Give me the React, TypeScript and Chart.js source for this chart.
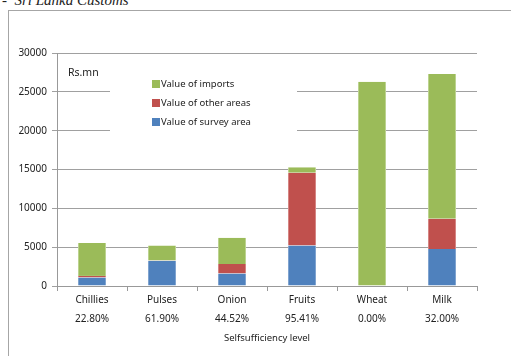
import React, { useEffect, useRef } from "react";
import { Chart, registerables } from "chart.js";

Chart.register(...registerables);

const categories = ["Chillies", "Pulses", "Onion", "Fruits", "Wheat", "Milk"];
const selfSufficiency = ["22.80%", "61.90%", "44.52%", "95.41%", "0.00%", "32.00%"];
const surveyArea = [1100, 3250, 1600, 5200, 0, 4750];
const otherAreas = [200, 30, 1230, 9390, 0, 3920];
const imports = [4250, 1950, 3390, 690, 26300, 18630];
const yTicks = [0, 5000, 10000, 15000, 20000, 25000, 30000];
const unitLabel = "Rs.mn";
const xTitle = "Selfsufficiency level";
const headerText = "Sri Lanka Customs";

const FONT = "'Noto Sans', 'Open Sans', sans-serif";

const legendPlugin = {
  id: "insideLegend",
  beforeDatasetsDraw(chart: any) {
    const ctx = chart.ctx;
    const area = chart.chartArea;
    ctx.save();
    ctx.fillStyle = "#ffffff";
    ctx.fillRect(area.left + 53, area.top + 14, 187, 72);
    const ds = chart.data.datasets.slice().reverse();
    ctx.font = `9.5px ${FONT}`;
    ctx.textBaseline = "middle";
    ctx.textAlign = "left";
    ds.forEach((d: any, i: number) => {
      const y = area.top + 31 + i * 19;
      ctx.fillStyle = d.backgroundColor;
      ctx.fillRect(area.left + 95, y - 4, 8, 8);
      ctx.fillStyle = "#222";
      ctx.fillText(d.label, area.left + 104, y + 0.5);
    });
    ctx.font = `10.5px ${FONT}`;
    ctx.fillStyle = "#222";
    ctx.fillText(unitLabel, area.left + 11, area.top + 20);
    ctx.restore();
  },
};

const sideBorder = { top: 0, bottom: 0, left: 1, right: 1 };

export default function App() {
  const ref = useRef<HTMLCanvasElement>(null);
  useEffect(() => {
    if (!ref.current) return;
    const chart = new Chart(ref.current, {
      type: "bar",
      data: {
        labels: categories.map((c, i) => [c, selfSufficiency[i]]),
        datasets: [
          { label: "Value of survey area", data: surveyArea, backgroundColor: "#4F81BD", borderColor: "#7fa3cf", borderWidth: sideBorder, borderSkipped: false },
          { label: "Value of other areas", data: otherAreas, backgroundColor: "#C0504D", borderColor: "#d58583", borderWidth: sideBorder, borderSkipped: false },
          { label: "Value of imports", data: imports, backgroundColor: "#9BBB59", borderColor: "#bcd38f", borderWidth: sideBorder, borderSkipped: false },
        ],
      },
      options: {
        responsive: false,
        animation: false,
        devicePixelRatio: 1,
        layout: { padding: { top: 53, right: 34, bottom: 0, left: 0 } },
        plugins: { legend: { display: false }, tooltip: { enabled: false } },
        datasets: { bar: { categoryPercentage: 1, barPercentage: 0.4 } },
        scales: {
          x: {
            stacked: true,
            grid: { drawOnChartArea: false, offset: true, tickLength: 5, color: "#999" },
            border: { color: "#999", width: 1 },
            ticks: { color: "#222", padding: 0, maxRotation: 0, autoSkip: false, font: { family: FONT, size: 10, lineHeight: 1.9 } },
            title: { display: true, text: xTitle, color: "#222", font: { family: FONT, size: 9.5, lineHeight: 1.2 }, padding: { top: 0, bottom: 12 } },
            afterFit: (s: any) => { s.height = 70; },
          },
          y: {
            stacked: true,
            min: 0,
            max: 30000,
            afterBuildTicks: (s: any) => { s.ticks = yTicks.map((v) => ({ value: v })); },
            grid: { color: "#a0a0a0", tickLength: 5, lineWidth: 1 },
            border: { color: "#999", width: 1 },
            ticks: { color: "#222", padding: 5, font: { family: FONT, size: 10 }, callback: (v: any) => String(v) },
            afterFit: (s: any) => { s.width = 57; },
          },
        },
      },
      plugins: [legendPlugin],
    } as any);
    return () => chart.destroy();
  }, []);

  return (
    <div style={{ position: "absolute", left: 0, top: 0, width: 511, height: 356, overflow: "hidden", background: "#fff" }}>
      <div style={{ position: "absolute", left: 8, top: 10, width: 600, height: 400, borderLeft: "1px solid #a6a6a6", borderTop: "1px solid #a6a6a6" }} />
      <div style={{ position: "absolute", left: 2, top: -7, fontFamily: "'Liberation Serif', 'DejaVu Serif', serif", fontStyle: "italic", fontSize: 15, lineHeight: "15px", color: "#222", whiteSpace: "pre" }}>
        {"-  " + headerText}
      </div>
      <canvas ref={ref} width={511} height={356} style={{ position: "absolute", left: 0, top: 0, display: "block" }} />
    </div>
  );
}
